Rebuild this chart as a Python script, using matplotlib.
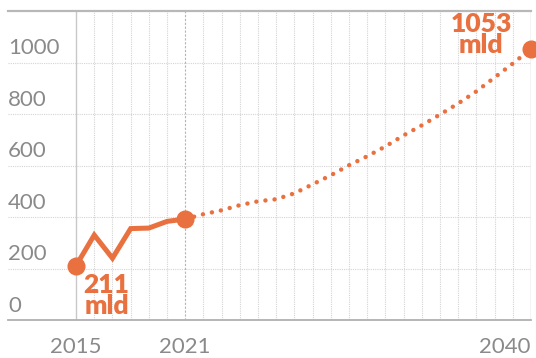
import matplotlib.pyplot as plt
import matplotlib.transforms as mtransforms

# Data (values in mld)
years_actual = [2015, 2016, 2017, 2018, 2019, 2020, 2021]
values_actual = [211, 330, 240, 355, 357, 383, 392]

years_forecast = list(range(2021, 2041))
values_forecast = [392, 411, 426, 446, 461, 469, 492, 527, 562, 601,
                   636, 674, 717, 756, 798, 841, 888, 942, 996, 1053]

yticks = [0, 200, 400, 600, 800, 1000]
xticks = [2015, 2021, 2040]
grid_years = list(range(2015, 2041))

orange = '#E9703F'
gray_text = '#8a8a8a'
font = 'Lato'

fig = plt.figure(figsize=(5.36, 3.58), dpi=100)
ax = fig.add_axes([8 / 536, 38 / 358, 523 / 536, 309 / 358])
ax.set_xlim(2011.26, 2040)
ax.set_ylim(0, 1200)

# grid
ax.set_xticks(grid_years, minor=True)
ax.grid(which='minor', axis='x', color='#d4d4d4', linestyle=(0, (1, 1)), linewidth=0.8)
ax.set_yticks(yticks)
ax.grid(which='major', axis='y', color='#d4d4d4', linestyle=(0, (1, 1)), linewidth=0.8)
ax.axvline(2015, color='#c8c8c8', linewidth=1.0)
ax.axvline(2021, color='#b5b5b5', linestyle=(0, (2, 1.5)), linewidth=0.8)
ax.axvline(2040, color='#c8c8c8', linewidth=1.0)
ax.set_axisbelow(True)

for side in ['left', 'right']:
    ax.spines[side].set_visible(False)
ax.spines['top'].set_color('#b8b8b8')
ax.spines['bottom'].set_color('#b0b0b0')
ax.spines['top'].set_linewidth(1.6)
ax.spines['bottom'].set_linewidth(1.3)

# y tick labels inside, above the gridlines
ax.tick_params(axis='y', which='both', length=0, pad=0, labelsize=16,
               labelcolor=gray_text)
ax.set_yticklabels([str(v) for v in yticks], fontfamily=font, fontweight='normal')
offset = mtransforms.ScaledTranslation(0, 3 / 72, fig.dpi_scale_trans)
for lab in ax.get_yticklabels():
    lab.set_ha('left')
    lab.set_va('bottom')
    lab.set_transform(lab.get_transform() + offset)

# x tick labels
ax.set_xticks(xticks)
ax.set_xticklabels([str(v) for v in xticks], fontfamily=font, fontweight='normal')
ax.tick_params(axis='x', which='both', length=0, pad=12, labelsize=16,
               labelcolor=gray_text)
ax.get_xticklabels()[-1].set_ha('right')

# series
ax.plot(years_forecast, values_forecast, color=orange, linewidth=3.2,
        linestyle=(0, (0.01, 2.05)), dash_capstyle='round', clip_on=False)
ax.plot(years_actual, values_actual, color=orange, linewidth=3.6,
        solid_joinstyle='miter', clip_on=False)
ax.plot([years_actual[0], years_actual[-1]], [values_actual[0], values_actual[-1]],
        'o', color=orange, markersize=12, clip_on=False)
ax.plot([years_forecast[-1]], [values_forecast[-1]], 'o', color=orange,
        markersize=12, clip_on=False)

ax.annotate(f'{values_actual[0]}\nmld', (years_actual[0], values_actual[0]),
            xytext=(22, -5), textcoords='offset points', ha='center', va='top',
            fontsize=19, fontweight='heavy', color=orange, fontfamily=font,
            linespacing=0.85)
ax.annotate(f'{values_forecast[-1]}\nmld', (years_forecast[-1], values_forecast[-1]),
            xytext=(-36, 10), textcoords='offset points', ha='center', va='center',
            fontsize=19, fontweight='heavy', color=orange, fontfamily=font,
            linespacing=0.85)

fig.savefig('out.png', dpi=100)
